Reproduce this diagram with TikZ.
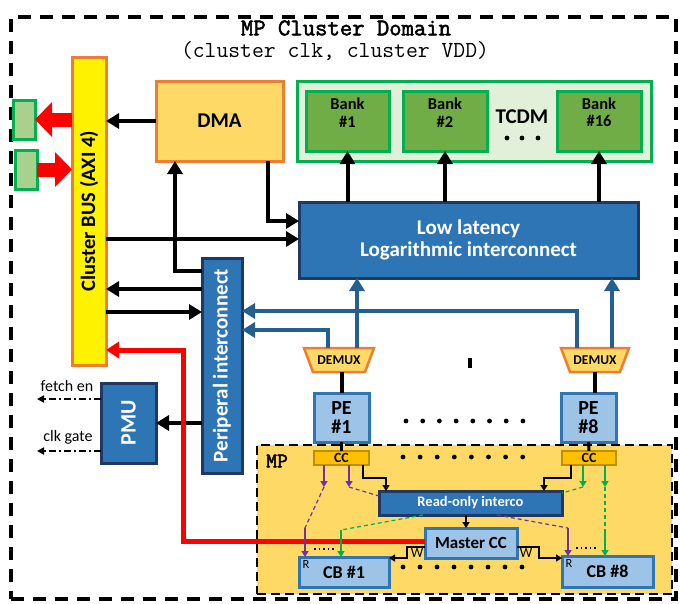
\documentclass[tikz,border=0pt]{standalone}
\usepackage{fontspec}
\setmainfont{Carlito}
\newfontfamily\monob[FakeBold=2.2]{Latin Modern Mono}
\newfontfamily\monor{Latin Modern Mono}
\usetikzlibrary{arrows.meta,calc}
\newcommand{\fsz}[1]{\fontsize{#1}{#1}\selectfont}
\definecolor{orng}{HTML}{ED7D31}
\definecolor{lorng}{HTML}{FFD966}
\definecolor{grn}{HTML}{00B050}
\definecolor{lgrn}{HTML}{A9D18E}
\definecolor{bankg}{HTML}{70AD47}
\definecolor{tcdmg}{HTML}{E2F0D9}
\definecolor{blu}{HTML}{2E75B6}
\definecolor{navy}{HTML}{1F3864}
\definecolor{lblu}{HTML}{9DC3E6}
\definecolor{arrb}{HTML}{255E91}
\definecolor{ccfill}{HTML}{FFC000}
\definecolor{ccdraw}{HTML}{BF9000}
\definecolor{purp}{HTML}{7030A0}
\begin{document}
\begin{tikzpicture}[x=1pt,y=-1pt,
  box/.style={draw, line width=3pt, inner sep=0pt, outer sep=0pt, align=center},
  busbox/.style={box, fill=yellow, draw=orng},
  gbox/.style={box, fill=lgrn, draw=grn},
  dmabox/.style={box, fill=lorng, draw=orng, font=\fsz{21}\bfseries},
  bankbox/.style={box, fill=bankg, draw=grn, font=\fsz{16.5}\bfseries, text height=12pt},
  bluebox/.style={box, fill=blu, draw=navy, text=white, font=\bfseries},
  lbbox/.style={box, fill=lblu, draw=blu, font=\bfseries},
  ccbox/.style={box, line width=2pt, fill=ccfill, draw=ccdraw, font=\fsz{14}\bfseries},
  blk/.style={line width=4pt, -{Triangle[length=13pt,width=15pt]}},
  blkline/.style={line width=4pt},
  bluarr/.style={draw=arrb, line width=4pt, -{Triangle[length=13pt,width=15pt]}},
  redbig/.style={draw=red, line width=14pt, -{Triangle[length=17pt,width=34pt]}},
  redarr/.style={draw=red, line width=5pt, -{Triangle[length=13pt,width=16pt]}},
  pmuarr/.style={line width=2pt, dash pattern=on 7pt off 3pt on 2pt off 3pt, -{Triangle[length=7pt,width=7pt]}},
  small/.style={line width=1.6pt, -{Triangle[length=6pt,width=7pt]}},
  purarr/.style={draw=purp, line width=2pt, -{Triangle[length=6pt,width=7pt]}},
  grnarr/.style={draw=grn, line width=2pt, -{Triangle[length=6pt,width=7pt]}},
  purdash/.style={draw=purp, line width=1.2pt, dash pattern=on 4pt off 3pt},
  grndash/.style={draw=grn, line width=1.2pt, dash pattern=on 4pt off 3pt}
]
\useasboundingbox (0,0) rectangle (683,603);
% outer domain
\node[draw, line width=3.5pt, dash pattern=on 13pt off 9pt, minimum width=665pt, minimum height=582pt, inner sep=0pt] (dom) at (343.5,308) {};
\node[font=\monob\fsz{24}] (title) at (346,28) {MP Cluster Domain};
\node[font=\monor\fsz{23}] (subtitle) at (335,51) {(cluster clk, cluster VDD)};

% MP region background
\node[draw, fill=lorng, line width=2.5pt, dash pattern=on 9pt off 5pt, minimum width=415pt, minimum height=149pt, inner sep=0pt] (mp) at (464.5,519.5) {};
\node[font=\monob\fsz{21}] (mplabel) at (277,461) {MP};

% boxes
\node[busbox, minimum width=34pt, minimum height=308pt] (bus) at (89,211) {};
\node[rotate=90, font=\fsz{20.5}\bfseries] (bustext) at (bus.center) {Cluster BUS (AXI 4)};
\node[gbox, minimum width=22pt, minimum height=39pt] (g1) at (24,119.5) {};
\node[gbox, minimum width=22pt, minimum height=39pt] (g2) at (26,169.5) {};
\node[dmabox, minimum width=127pt, minimum height=80pt] (dma) at (219.5,121) {DMA};
\node[box, fill=tcdmg, draw=grn, minimum width=354pt, minimum height=80pt] (tcdm) at (474,121) {};
\node[bankbox, minimum width=83pt, minimum height=60pt] (bank1) at (347.5,121) {Bank\\[1pt]\#1};
\node[bankbox, minimum width=84pt, minimum height=60pt] (bank2) at (445,121) {Bank\\[1pt]\#2};
\node[bankbox, minimum width=84pt, minimum height=60pt] (bank16) at (599,121) {Bank\\[1pt]\#16};
\node[font=\fsz{21}\bfseries] (tcdmtext) at (522,117) {TCDM};
\foreach \x in {507,522,538} \fill (\x,138) circle[radius=2.4pt];
\node[bluebox, minimum width=339pt, minimum height=76pt, font=\fsz{21}\bfseries] (ic) at (468.5,240) {Low latency\\[1pt]Logarithmic interconnect};
\node[bluebox, minimum width=40pt, minimum height=215pt] (periph) at (222,365.5) {};
\node[rotate=90, text=white, font=\fsz{21}\bfseries] (periphtext) at (periph.center) {Periperal interconnect};
\node[bluebox, minimum width=55pt, minimum height=80pt] (pmu) at (128.5,423) {};
\node[rotate=90, text=white, font=\fsz{22}\bfseries] (pmutext) at (pmu.center) {PMU};
\node[font=\fsz{16}] (fetchen) at (67,386) {fetch en};
\node[font=\fsz{16}] (clkgate) at (68,437) {clk gate};

% DEMUX
\node[inner sep=0pt, outer sep=0pt, minimum width=52pt, minimum height=24pt] (dmx1) at (339,360) {};
\node[inner sep=0pt, outer sep=0pt, minimum width=50pt, minimum height=24pt] (dmx2) at (595,360) {};
\foreach \d in {dmx1,dmx2}
  \draw[fill=lorng, draw=orng, line width=2.5pt, line join=miter]
    ($(\d.north west)+(-9,0)$) -- ($(\d.north east)+(9,0)$) -- (\d.south east) -- (\d.south west) -- cycle;
\node[font=\fsz{13.5}\bfseries] (dmx1t) at (dmx1) {DEMUX};
\node[font=\fsz{13.5}\bfseries] (dmx2t) at (dmx2) {DEMUX};
\fill (468,358) rectangle (472,368);

\node[lbbox, minimum width=55pt, minimum height=49pt, font=\fsz{20}\bfseries] (pe1) at (341.5,417.5) {PE\\[-1pt]\#1};
\node[lbbox, minimum width=55pt, minimum height=49pt, font=\fsz{20}\bfseries] (pe8) at (588.5,417.5) {PE\\[-1pt]\#8};
\foreach \i in {0,...,7} \fill (406+\i*16.7,421) circle[radius=2.4pt];

% MP internals nodes
\node[ccbox, minimum width=55pt, minimum height=14pt] (cc1) at (341.5,458) {CC};
\node[ccbox, minimum width=54pt, minimum height=14pt] (cc8) at (589,458) {CC};
\foreach \i in {0,...,7} \fill (403+\i*17.1,457) circle[radius=2.4pt];
\node[bluebox, minimum width=183pt, minimum height=24pt, font=\fsz{14.5}\bfseries] (ro) at (470.5,503) {Read-only interco};
\node[lbbox, minimum width=92pt, minimum height=30pt, font=\fsz{17}\bfseries] (mcc) at (471,543) {Master CC};
\node[lbbox, minimum width=90pt, minimum height=30pt, font=\fsz{18}\bfseries] (cb1) at (344,572) {CB \#1};
\node[lbbox, minimum width=91pt, minimum height=31pt, font=\fsz{18}\bfseries] (cb8) at (607.5,571.5) {CB \#8};
\node[font=\fsz{12.5}] (r1) at (306,564) {R};
\node[font=\fsz{12.5}] (r8) at (569,563) {R};
\foreach \i in {0,...,7} \fill (403+\i*17,567) circle[radius=2.4pt];

% coordinates
\coordinate (yBI) at (0,239);
\coordinate (xD) at (268,0);
\coordinate (yDI) at (0,221);
\coordinate (pdma) at (175,271);
\coordinate (y289) at (0,289);
\coordinate (y312) at (0,312);
\coordinate (rc) at (183,350);
\coordinate (yR) at (0,541);
\coordinate (fe) at (37,399);
\coordinate (ck) at (37,451);
\coordinate (x357) at (357,0);
\coordinate (b1) at (328,330);
\coordinate (b2) at (577,311);
\coordinate (x612) at (612,0);

% top-level connectors
\draw[blk] (dma.west) -- (dma.west -| bus.east);
\draw[redbig] (g1.east -| bus.west) -- (g1.east);
\draw[redbig] (g2.east) -- (g2.east -| bus.west);
\draw[blk] (bus.east |- yBI) -- (ic.west |- yBI);
\draw[blk, line join=miter] (dma.south -| xD) |- (ic.west |- yDI);
\draw[blk, line join=miter] (periph.west |- pdma) -| (dma.south -| pdma);
\draw[blk] (periph.west |- y289) -- (bus.east |- y289);
\draw[blk] (bus.east |- y312) -- (periph.west |- y312);
\draw[blk] (periph.west |- pmu.east) -- (pmu.east);
\draw[pmuarr] (pmu.west |- fe) -- (fe);
\draw[pmuarr] (pmu.west |- ck) -- (ck);
\foreach \b in {bank1,bank2,bank16}
  \draw[blk] (ic.north -| \b.south) -- (\b.south);

% blue connectors
\draw[bluarr] (dmx1.north -| x357) -- (ic.south -| x357);
\draw[bluarr, line join=miter] (dmx1.north -| b1) |- (periph.east |- b1);
\draw[bluarr, line join=miter] (dmx2.north -| b2) |- (periph.east |- b2);
\draw[bluarr] (dmx2.north -| x612) -- (ic.south -| x612);
\draw[blkline] (dmx1.south -| pe1.north) -- (pe1.north);
\draw[blkline] (dmx2.south) -- (dmx2.south |- pe8.north);
\draw[line width=3pt] (pe1.south) -- (cc1.north);
\draw[line width=3pt] (pe8.south) -- (cc8.north);

% red line from master CC to bus
\draw[redarr, line join=miter] (mcc.west |- yR) -| (rc) -- (bus.east |- rc);

% MP connectors
\coordinate (a1) at (363,0);
\coordinate (k1) at (386,478);
\coordinate (a8) at (571,0);
\coordinate (k8) at (544,478);
\coordinate (x466) at (466,0);
\coordinate (w1y) at (0,547);
\coordinate (w1) at (407,558);
\coordinate (w8) at (539,558);
\draw[small, line join=miter] (cc1.south -| a1) |- (k1) -- (ro.north -| k1);
\draw[small, line join=miter] (cc8.south -| a8) |- (k8) -- (ro.north -| k8);
\draw[small] (ro.south -| x466) -- (mcc.north -| x466);
\draw[small, line join=miter] (mcc.west |- w1y) -| (w1) -- (cb1.east |- w1);
\draw[small, line join=miter] (mcc.east |- w1y) -| (w8) -- (cb8.west |- w8);
\node[font=\fsz{14}] (wl) at (417,553) {W};
\node[font=\fsz{14}] (wr) at (526,553) {W};

\coordinate (pa) at (324,487);
\coordinate (pb) at (349,487);
\coordinate (pc) at (305,528);
\coordinate (yq) at (0,496);
\coordinate (xg) at (423,0);
\coordinate (gc) at (341,530);
\coordinate (ga) at (583,487);
\coordinate (gb) at (605,487);
\coordinate (gd) at (605,533);
\coordinate (yg) at (0,493);
\coordinate (xp) at (497,0);
\coordinate (pd) at (568,528);
\draw[purarr] (cc1.south -| pa) -- (pa);
\draw[purarr] (cc1.south -| pb) -- (pb);
\draw[purdash] (pa) -- (pc);
\draw[purarr] (pc) -- (cb1.north -| pc);
\draw[purdash] (pb) -- (ro.west |- yq);
\draw[grndash] (ro.south -| xg) -- (gc);
\draw[grnarr] (gc) -- (cb1.north -| gc);
\draw[line width=1.5pt, dash pattern=on 1.5pt off 3pt] (314,549) -- (334,549);
\draw[grnarr] (cc8.south -| ga) -- (ga);
\draw[grnarr] (cc8.south -| gb) -- (gb);
\draw[grndash] (ga) -- (ro.east |- yg);
\draw[grndash] (gb) -- (gd);
\draw[grnarr] (gd) -- (cb8.north -| gd);
\draw[purdash] (ro.south -| xp) -- (pd);
\draw[purarr] (pd) -- (cb8.north -| pd);
\draw[line width=1.5pt, dash pattern=on 1.5pt off 3pt] (576,548) -- (596,548);
\end{tikzpicture}
\end{document}
